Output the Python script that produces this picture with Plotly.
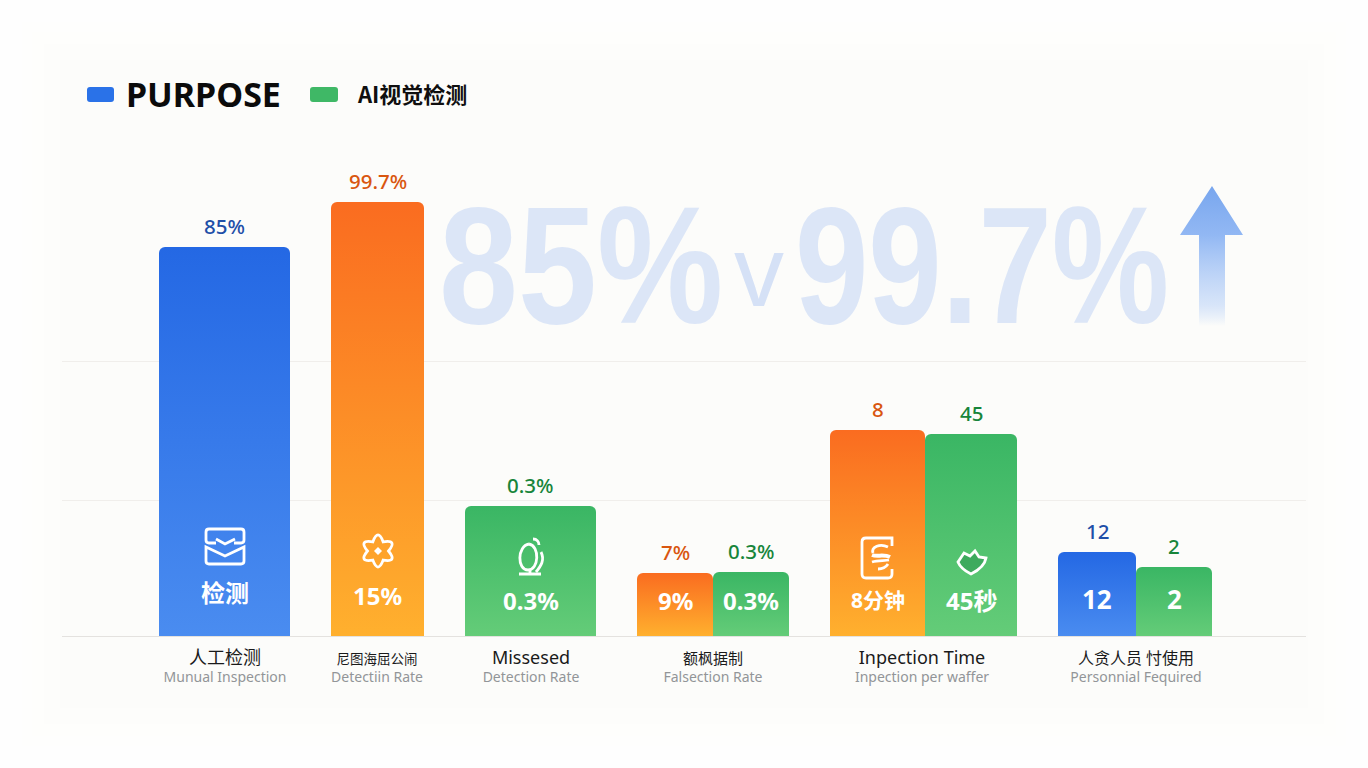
import re
import math
import plotly.graph_objects as go

# Inspection comparison: one bar per metric, each on its own hidden scale
bar_values = [85, 99.7, 0.3, 7, 0.3, 8, 45, 12, 2]
value_labels = ["85%", "99.7%", "0.3%", "7%", "0.3%", "8", "45", "12", "2"]
inner_labels = ["检测", "15%", "0.3%", "9%", "0.3%", "8分钟", "45秒", "12", "2"]
bar_kinds = ["blue", "orange", "green", "orange", "green", "orange", "green", "blue", "green"]

category_main = ["人工检测", "尼图海屈公闹", "Missesed", "额枫据制", "Inpection Time", "人贪人员 忖使用"]
category_sub = ["Munual Inspection", "Detectiin Rate", "Detection Rate",
                "Falsection Rate", "Inpection per waffer", "Personnial Fequired"]
legend_names = ["PURPOSE", "AI视觉检测"]
watermark_parts = ["85%", "v", "99.7%"]

# Layout geometry, in page pixels
WIDTH, HEIGHT = 1368, 768
BASE = 636
PLOT_L, PLOT_R = 62, 1306
bar_centers = [224.5, 377.5, 530.5, 675, 751, 877.5, 971, 1097, 1174]
bar_widths = [131, 93, 131, 76, 76, 95, 92, 78, 76]
bar_heights = [389, 434, 130, 63, 64, 206, 202, 84, 69]
inner_y = [592, 595, 600, 600, 600, 600, 600, 599, 599]
inner_size = [24, 24, 24, 24, 24, 21, 24, 26, 26]
category_x = [225, 377, 531, 713, 922, 1136]
category_size = [18, 13.5, 18, 15, 18, 16]

top_color = {"blue": "rgb(36,104,228)", "orange": "rgb(250,108,32)", "green": "rgb(58,182,100)"}
low_rgb = {"blue": "74,140,240", "orange": "255,176,46", "green": "100,204,120"}
label_color = {"blue": "#1f4fa8", "orange": "#d9560f", "green": "#17853a"}

FONT = "Noto Sans, Noto Sans CJK SC, sans-serif"
CJK = "Noto Sans CJK SC, Noto Sans, sans-serif"


def page_path(spec):
    """Turn an SVG path in page pixels into the primary axes' coordinates."""
    out, is_y = [], False
    for tok in re.findall(r"[A-Za-z]|-?\d+\.?\d*", spec):
        if tok.isalpha():
            out.append(tok)
        else:
            value = float(tok)
            out.append(str(BASE - value) if is_y else str(value))
            is_y = not is_y
    return " ".join(out)


def stroke(spec, width=2.8, fill=None):
    shape = dict(type="path", xref="x", yref="y", layer="above", path=page_path(spec),
                 line=dict(color="white", width=width))
    if fill:
        shape["fillcolor"] = fill
    return shape


def rounded(x0, y0, x1, y1, r, color):
    spec = (f"M {x0+r} {y0} L {x1-r} {y0} Q {x1} {y0} {x1} {y0+r} L {x1} {y1-r} Q {x1} {y1} {x1-r} {y1} "
            f"L {x0+r} {y1} Q {x0} {y1} {x0} {y1-r} L {x0} {y0+r} Q {x0} {y0} {x0+r} {y0} Z")
    return dict(type="path", xref="x", yref="y", path=page_path(spec), fillcolor=color,
                line=dict(width=0))


fig = go.Figure()
layout_axes = {}
annotations = []

for i, value in enumerate(bar_values):
    n = i + 2
    axis_id = f"y{n}"
    axis_top = value * BASE / bar_heights[i]
    layout_axes[f"yaxis{n}"] = dict(overlaying="y", visible=False, range=[0, axis_top], anchor="x")
    kind = bar_kinds[i]
    cx, w = bar_centers[i], bar_widths[i]
    fig.add_trace(go.Bar(x=[cx], y=[value], width=[w], yaxis=axis_id, showlegend=False,
                         marker=dict(color=top_color[kind], line=dict(width=0)),
                         hoverinfo="skip"))
    # Soft lightening towards the foot of the bar
    fig.add_trace(go.Scatter(
        x=[cx - w / 2, cx + w / 2, cx + w / 2, cx - w / 2, cx - w / 2],
        y=[0, 0, value, value, 0], yaxis=axis_id, mode="lines", line=dict(width=0),
        fill="toself", showlegend=False, hoverinfo="skip",
        fillgradient=dict(type="vertical", colorscale=[
            [0, f"rgba({low_rgb[kind]},1)"], [1, f"rgba({low_rgb[kind]},0)"]]),
    ))
    annotations.append(dict(x=cx, xref="x", y=value, yref=axis_id, yanchor="middle", yshift=21,
                            text=value_labels[i], showarrow=False,
                            font=dict(family=FONT, size=20.5, weight=500, color=label_color[kind])))
    annotations.append(dict(x=cx, xref="x", y=BASE - inner_y[i], yref="y", yanchor="middle",
                            text=f"<b>{inner_labels[i]}</b>", showarrow=False,
                            font=dict(family=FONT, size=inner_size[i], color="white")))

# Rising arrow beside the headline figures
fig.add_trace(go.Scatter(
    x=[1212, 1243, 1225, 1225, 1199, 1199, 1180, 1212],
    y=[BASE - v for v in [186, 235, 235, 326, 326, 235, 235, 186]],
    mode="lines", line=dict(width=0), fill="toself", showlegend=False, hoverinfo="skip",
    fillgradient=dict(type="vertical", colorscale=[
        [0, "rgba(150,188,245,0)"], [0.15, "rgba(170,200,247,0.45)"],
        [0.65, "rgba(140,180,243,0.95)"], [1, "rgba(120,166,238,1)"]]),
))

# Oversized pale headline behind the chart; the page script narrows these glyphs
WM = "#dce6f7"
HEAD = dict(family="Liberation Sans", size=167, weight=700, color=WM)
annotations += [
    dict(x=437, xref="x", y=BASE - 265, yref="y", xanchor="left", yanchor="middle", showarrow=False,
         text=watermark_parts[0], font=HEAD),
    dict(x=759, xref="x", y=BASE - 271, yref="y", xanchor="center", yanchor="middle", showarrow=False,
         text=watermark_parts[1], font=dict(family="Liberation Sans", size=100, color="#d5e1f6")),
    dict(x=793, xref="x", y=BASE - 265, yref="y", xanchor="left", yanchor="middle", showarrow=False,
         text=watermark_parts[2], font=HEAD),
    dict(x=124, xref="x", y=BASE - 94, yref="y", xanchor="left", yanchor="middle", showarrow=False,
         text=f"<b>{legend_names[0]}</b>", font=dict(family=FONT, size=34, color="#0b0b0b")),
    dict(x=354.5, xref="x", y=BASE - 92.5, yref="y", xanchor="left", yanchor="middle", showarrow=False,
         text=f"<b>{legend_names[1]}</b>", font=dict(family=CJK, size=22, color="#0f0f0f")),
]

# Legend swatches and a faint backdrop
shapes = [rounded(87, 87, 114, 102, 3, "#2a72e8"), rounded(310, 87, 338, 102, 3, "#3fb866")]
for inset, alpha in [(14, 0.04), (22, 0.05), (32, 0.05), (44, 0.06), (60, 0.06)]:
    shapes.append(dict(type="rect", xref="paper", yref="paper", layer="below",
                       x0=(inset - PLOT_L) / (PLOT_R - PLOT_L), x1=(WIDTH - inset - PLOT_L) / (PLOT_R - PLOT_L),
                       y0=(BASE - (HEIGHT - inset)) / BASE, y1=(BASE - inset) / BASE,
                       fillcolor=f"rgba(246,246,243,{alpha})", line=dict(width=0)))

# Line icons inside the bars
shapes += [
    stroke("M 216 543 L 209 543 Q 206 543 206 540 L 206 532 Q 206 529 209 529 L 241 529 Q 244 529 244 532 "
           "L 244 540 Q 244 543 241 543 L 234 543"),
    stroke("M 216 539 L 225 544 L 235 539"),
    stroke("M 206 547 L 225 556 L 244 547 L 244 561 Q 244 564 241 564 L 209 564 Q 206 564 206 561 Z"),
    stroke("M 529 544 C 517 546 517 570 528 570 C 539 570 540 546 529 544"),
    stroke("M 533 539 C 537 539 539 542 539 545 M 541 552 C 545 560 541 566 536 572"),
    stroke("M 519 574 L 541 574 M 530 570 L 530 574"),
    stroke("M 892 546 L 892 538 L 866 538 Q 862 538 862 542 L 862 574 Q 862 578 866 578 L 888 578 "
           "Q 892 578 892 574 L 892 569"),
    stroke("M 888 547 C 880 543 871 547 873 553"),
    stroke("M 872 555 C 877 557 884 554 890 557", width=4),
    stroke("M 872 562 C 878 560 884 561 889 560 M 878 569 C 882 569 886 567 888 564"),
    stroke("M 958 562 L 964 553 L 970 556 L 975 551 L 979 557 L 986 558 C 985 564 979 570 971 574 "
           "C 965 571 960 567 958 562 Z", fill="rgba(36,140,72,0.45)"),
]
# Six-lobed badge: rounded tips come from quadratic segments through the outer points
lobes, inner_r, outer_r = 6, 10.5, 23
start = (378 + inner_r * math.cos(math.radians(-120)), 551 + inner_r * math.sin(math.radians(-120)))
star_spec = f"M {start[0]:.1f} {start[1]:.1f}"
for k in range(lobes):
    tip = math.radians(-90 + 60 * k)
    end = math.radians(-60 + 60 * k)
    star_spec += (f" Q {378 + outer_r * math.cos(tip):.1f} {551 + outer_r * math.sin(tip):.1f}"
                  f" {378 + inner_r * math.cos(end):.1f} {551 + inner_r * math.sin(end):.1f}")
shapes.append(stroke(star_spec + " Z"))
shapes.append(dict(type="path", xref="x", yref="y", layer="above",
                   path=page_path("M 378 547 L 382 551 L 378 555 L 374 551 Z"),
                   fillcolor="white", line=dict(width=0)))

# Two-line category labels carried by the x axis ticks
ticktext = [
    f'<span style="font-size:{size}px;color:#1a1a1a">{main}</span><br>'
    f'<span style="font-size:14px;color:#929598">{sub}</span>'
    for main, sub, size in zip(category_main, category_sub, category_size)
]

fig.update_layout(
    width=WIDTH, height=HEIGHT, autosize=False,
    margin=dict(l=PLOT_L, r=WIDTH - PLOT_R, t=0, b=HEIGHT - BASE, pad=0),
    paper_bgcolor="#fefefe", plot_bgcolor="rgba(0,0,0,0)",
    barmode="overlay", barcornerradius=6, showlegend=False,
    font=dict(family=FONT),
    xaxis=dict(range=[PLOT_L, PLOT_R], tickmode="array", tickvals=category_x, ticktext=ticktext,
               tickfont=dict(family=FONT, size=14), ticklen=0, ticklabelstandoff=13, showgrid=False,
               zeroline=False, showline=False, tickangle=0, fixedrange=True),
    yaxis=dict(range=[0, BASE], tickmode="array", tickvals=[BASE - 500, BASE - 361],
               showticklabels=False, ticklen=0, gridcolor="#f0eeeb", gridwidth=1,
               zeroline=True, zerolinecolor="#e4e2df", zerolinewidth=1, fixedrange=True),
    shapes=shapes, annotations=annotations,
    **layout_axes,
)

# Condense the headline figures horizontally, keeping their left edges in place
condense = """
document.querySelectorAll('.annotation-text').forEach(function (t) {
  if (t.style.fontSize !== '167px') return;
  var left = t.getBBox().x;
  var k = t.textContent === '85%' ? 0.85 : 0.79;
  t.setAttribute('transform', 'translate(' + left + ',0) scale(' + k + ',1) translate(' + (-left) + ',0)');
});
"""
fig.write_html("out.html", config={"displayModeBar": False}, post_script=condense)
